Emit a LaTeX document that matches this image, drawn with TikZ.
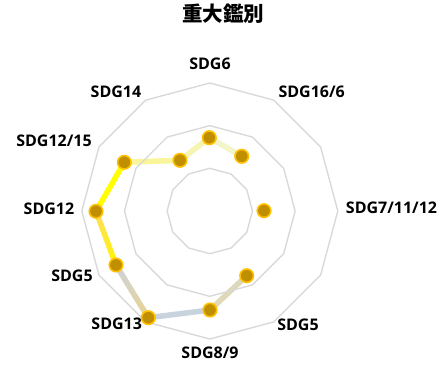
\documentclass[tikz,border=0pt]{standalone}
\usepackage{fontspec}
\setmainfont{Open Sans}
\newfontfamily\cjkfont{Noto Sans CJK JP}
\usetikzlibrary{calc}
\definecolor{gridc}{HTML}{D9D9D9}
\definecolor{dotfill}{HTML}{BF8F00}
\definecolor{dotrim}{HTML}{FFC000}
\definecolor{sA}{HTML}{F2F5C8}
\definecolor{sB}{HTML}{F5F4B0}
\definecolor{sC}{HTML}{FAF59A}
\definecolor{sD}{HTML}{FFFF00}
\definecolor{sE1}{HTML}{FFDD66}
\definecolor{sE2}{HTML}{FFF500}
\definecolor{sF1}{HTML}{CBD3DC}
\definecolor{sF2}{HTML}{EAD48E}
\definecolor{sG}{HTML}{C9D3DE}
\definecolor{sH1}{HTML}{E2D9B2}
\definecolor{sH2}{HTML}{DAD7C2}
\pgfdeclarelayer{bg}
\pgfsetlayers{bg,main}
\newcommand{\gradseg}[4]{%
  \foreach \i in {0,...,11}{%
    \pgfmathsetmacro\ta{\i/12-0.006}%
    \pgfmathsetmacro\tb{(\i+1)/12+0.006}%
    \pgfmathtruncatemacro\p{100-(\i+0.5)/12*100}%
    \draw[seg, color=#4!\p!#3] ($(#1.center)!\ta!(#2.center)$) -- ($(#1.center)!\tb!(#2.center)$);
  }%
}
\begin{document}
\begin{tikzpicture}[x=1pt,y=1pt,
  font=\bfseries\fontsize{16}{18}\selectfont,
  lbl/.style={inner sep=0pt, text height=0.714em, text depth=0pt, anchor=center},
  dot/.style={circle, fill=dotfill, draw=dotrim, line width=1.6pt, minimum size=13.5pt, inner sep=0pt},
  ring/.style={draw=gridc, line width=1.4pt},
  seg/.style={line width=5.5pt, line cap=butt}]
\useasboundingbox (0,0) rectangle (446,365);
\coordinate (C) at (209.8,154);
% grid rings
\foreach \r in {42.67,85.33,128}{
  \draw[ring, shift={(C)}] (0:\r) \foreach \a in {30,60,...,330}{ -- (\a:\r)} -- cycle;
}
% title
\node[lbl, font=\cjkfont\bfseries\fontsize{20.5}{22}\selectfont, text height=0.8em] (title) at (223,347) {重大鑑別};
% axis labels
\node[lbl] (l6)  at (210,299.5) {SDG6};
\node[lbl] (l16) at (311.7,271.5) {SDG16/6};
\node[lbl] (l7)  at (391.5,155) {SDG7/11/12};
\node[lbl] (l5r) at (298,38) {SDG5};
\node[lbl] (l8)  at (210,10) {SDG8/9};
\node[lbl] (l13) at (116.7,39) {SDG13};
\node[lbl] (l5l) at (72,87.5) {SDG5};
\node[lbl] (l12) at (49,154) {SDG12};
\node[lbl] (l1215) at (54,222) {SDG12/15};
\node[lbl] (l14) at (116,271.5) {SDG14};
% data points
\node[dot] (d6)  at (209.3,227.3) {};
\node[dot] (d16) at (241.7,208.7) {};
\node[dot] (d7)  at (264,154.3) {};
\node[dot] (d5r) at (246.7,89.3) {};
\node[dot] (d8)  at (210,55) {};
\node[dot] (d13) at (148.3,47.3) {};
\node[dot] (d5l) at (116,100) {};
\node[dot] (d12) at (96,153.7) {};
\node[dot] (d1215) at (124.3,202.7) {};
\node[dot] (d14) at (180,204.7) {};
% connectors
\begin{pgfonlayer}{bg}
\gradseg{d6}{d16}{sA}{sA}
\gradseg{d14}{d6}{sB}{sB}
\gradseg{d1215}{d14}{sC}{sC}
\gradseg{d12}{d1215}{sD}{sD}
\gradseg{d5l}{d12}{sE1}{sE2}
\gradseg{d13}{d5l}{sF1}{sF2}
\gradseg{d8}{d13}{sG}{sG}
\gradseg{d5r}{d8}{sH1}{sH2}
\end{pgfonlayer}
\end{tikzpicture}
\end{document}
